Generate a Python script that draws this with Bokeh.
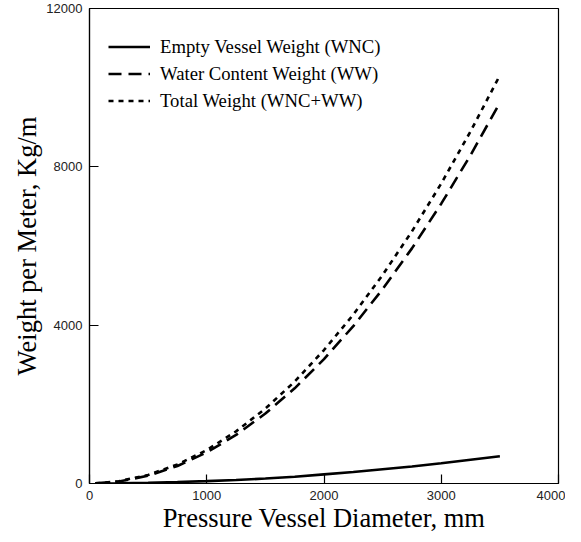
from bokeh.plotting import figure
from bokeh.models import Range1d, FixedTicker, Legend, LegendItem
from bokeh.embed import file_html
from bokeh.resources import INLINE

diameter = [50, 250, 500, 750, 1000, 1250, 1500, 1750, 2000, 2250, 2500, 2750, 3000, 3250, 3500]
wnc = [1, 8, 20, 38, 60, 90, 125, 170, 230, 290, 360, 430, 510, 600, 690]
ww = [2, 49, 196, 442, 785, 1227, 1767, 2405, 3142, 3976, 4909, 5940, 7069, 8296, 9621]
total = [3, 57, 216, 480, 845, 1317, 1892, 2575, 3372, 4266, 5269, 6370, 7579, 8896, 10311]

x_ticks = [0, 1000, 2000, 3000, 4000]
y_ticks = [0, 4000, 8000, 12000]
labels = ["Empty Vessel Weight (WNC)", "Water Content Weight (WW)", "Total Weight (WNC+WW)"]

p = figure(output_backend="svg", toolbar_location=None,
           frame_width=469, frame_height=475,
           min_border_left=89, min_border_right=7, min_border_top=8, min_border_bottom=43,
           x_range=Range1d(0, 4000), y_range=Range1d(0, 12000))
p.background_fill_color = "white"
p.border_fill_color = "white"
p.outline_line_color = "black"
p.outline_line_width = 1.2
p.xgrid.visible = False
p.ygrid.visible = False

for ax, ticks in ((p.xaxis, x_ticks), (p.yaxis, y_ticks)):
    ax.ticker = FixedTicker(ticks=ticks)
    ax.major_tick_in = 9
    ax.major_tick_out = 0
    ax.minor_tick_line_color = None
    ax.axis_line_color = "black"
    ax.axis_line_width = 1.2
    ax.major_tick_line_color = "black"
    ax.major_tick_line_width = 1.2
    ax.major_label_text_font = "Liberation Sans"
    ax.major_label_text_font_size = "13px"
    ax.major_label_text_color = "#222222"
    ax.major_label_standoff = 7
    ax.axis_label_text_font = "Liberation Serif"
    ax.axis_label_text_font_style = "normal"
    ax.axis_label_text_color = "black"

p.xaxis.axis_label = "Pressure Vessel Diameter, mm"
p.yaxis.axis_label = "Weight per Meter, Kg/m"
p.xaxis.axis_label_text_font_size = "26.5px"
p.yaxis.axis_label_text_font_size = "26.5px"
p.xaxis.axis_label_standoff = 0
p.yaxis.axis_label_standoff = 1

r1 = p.line(diameter, wnc, line_color="black", line_width=2.6)
r2 = p.line(diameter, ww, line_color="black", line_width=2.6, line_dash="13 7")
r3 = p.line(diameter, total, line_color="black", line_width=2.6, line_dash="5 5")

legend = Legend(items=[LegendItem(label=labels[0], renderers=[r1]),
                       LegendItem(label=labels[1], renderers=[r2]),
                       LegendItem(label=labels[2], renderers=[r3])],
                location="top_left")
legend.title = " "
legend.title_text_font_size = "6px"
legend.title_standoff = 0
legend.margin = 19
legend.padding = 9
legend.spacing = 0
legend.glyph_width = 42
legend.glyph_height = 27
legend.label_height = 27
legend.label_standoff = 10
legend.label_text_font = "Liberation Serif"
legend.label_text_font_size = "18.7px"
legend.label_text_color = "black"
legend.border_line_color = None
legend.background_fill_alpha = 0
p.add_layout(legend)

open("out.html", "w").write(file_html(p, INLINE))
